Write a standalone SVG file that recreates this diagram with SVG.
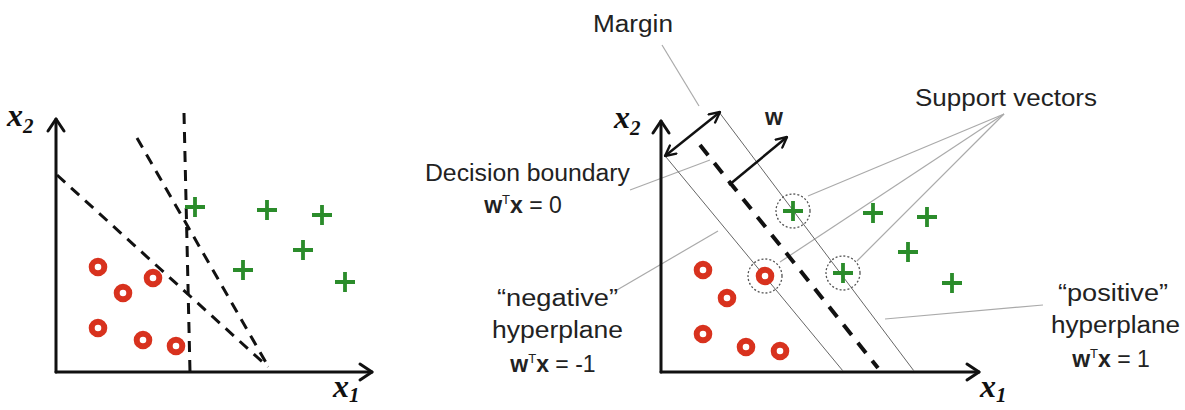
<svg xmlns="http://www.w3.org/2000/svg" width="1185" height="410" viewBox="0 0 1185 410">
<style>
.axis{stroke:#111;stroke-width:3;fill:none;stroke-linecap:round}
.head{stroke:#111;stroke-width:3;fill:none;stroke-linecap:round;stroke-linejoin:round}
.dashL{stroke:#111;stroke-width:3;stroke-dasharray:11 8;fill:none}
.dashB{stroke:#111;stroke-width:4;stroke-dasharray:13 10;fill:none}
.hyp{stroke:#666;stroke-width:1;fill:none}
.lead{stroke:#aaa;stroke-width:1.2;fill:none}
.neg{fill:#fff;stroke:#d8321e;stroke-width:6}
.pos{stroke:#2b8c2b;stroke-width:3.8;stroke-linecap:butt;fill:none}
.sv{fill:none;stroke:#555;stroke-width:1.3;stroke-dasharray:2 2}
.lbl{font-family:"Liberation Sans",Arial,sans-serif;font-size:23px;fill:#222}
.var{font-family:"Liberation Serif","Times New Roman",serif;font-style:italic;font-weight:bold;fill:#111}
.arr{stroke:#111;stroke-width:2.5;fill:none}
</style>
<defs>
<marker id="chev" viewBox="0 0 10 10" refX="9" refY="5" markerUnits="userSpaceOnUse" markerWidth="13" markerHeight="13" orient="auto-start-reverse">
<path d="M1,1 L9,5 L1,9" fill="none" stroke="#111" stroke-width="1.8" stroke-linecap="round" stroke-linejoin="round"/>
</marker>
<path id="plus" class="pos" d="M-10,0 H10 M0,-10 V10"/>
</defs>
<rect width="1185" height="410" fill="#fff"/>

<g id="left-panel">
<g id="left-axes">
<line class="axis" x1="56" y1="372" x2="56" y2="119"/>
<polyline class="head" points="48,131 56,119 64,131"/>
<line class="axis" x1="56" y1="372" x2="372" y2="372"/>
<polyline class="head" points="360,364 372,372 360,380"/>
<text class="var" x="7" y="126" font-size="32">x<tspan font-size="21" dy="7">2</tspan></text>
<text class="var" x="333" y="397" font-size="32">x<tspan font-size="21" dy="5">1</tspan></text>
</g>
<g id="left-boundaries">
<line class="dashL" x1="184" y1="113" x2="190" y2="372"/>
<line class="dashL" x1="57" y1="175" x2="268" y2="367"/>
<line class="dashL" x1="137" y1="138" x2="268" y2="366"/>
</g>
<g id="left-negatives">
<circle class="neg" cx="98" cy="267" r="6.3"/>
<circle class="neg" cx="153" cy="278" r="6.3"/>
<circle class="neg" cx="123" cy="293" r="6.3"/>
<circle class="neg" cx="98" cy="328" r="6.3"/>
<circle class="neg" cx="143" cy="340" r="6.3"/>
<circle class="neg" cx="176" cy="346" r="6.3"/>
</g>
<g id="left-positives">
<use href="#plus" x="195" y="207"/>
<use href="#plus" x="267" y="210"/>
<use href="#plus" x="322" y="215"/>
<use href="#plus" x="303" y="250"/>
<use href="#plus" x="243" y="270"/>
<use href="#plus" x="345" y="282"/>
</g>
</g>

<g id="connectors">
<line class="lead" x1="662" y1="45" x2="699" y2="106"/>
<line class="lead" x1="630" y1="190" x2="710" y2="160"/>
<line class="lead" x1="617" y1="290" x2="718" y2="231"/>
<line class="lead" x1="885" y1="319" x2="1043" y2="305"/>
<line class="lead" x1="1004" y1="114" x2="808" y2="196"/>
<line class="lead" x1="1004" y1="114" x2="780" y2="262"/>
<line class="lead" x1="1004" y1="114" x2="857" y2="261"/>
</g>

<g id="right-panel">
<g id="right-axes">
<line class="axis" x1="661" y1="372" x2="661" y2="121"/>
<polyline class="head" points="653,133 661,121 669,133"/>
<line class="axis" x1="661" y1="372" x2="979" y2="372"/>
<polyline class="head" points="967,364 979,372 967,380"/>
<text class="var" x="614" y="128" font-size="32">x<tspan font-size="21" dy="7">2</tspan></text>
<text class="var" x="980" y="397" font-size="32">x<tspan font-size="21" dy="5">1</tspan></text>
</g>
<g id="hyperplanes">
<line class="hyp" x1="666" y1="157" x2="843" y2="371"/>
<line class="hyp" x1="719" y1="112" x2="914" y2="371"/>
<line class="dashB" x1="700" y1="145" x2="878" y2="368"/>
</g>
<g id="margin-arrow">
<line class="arr" x1="665" y1="156" x2="720" y2="112" marker-start="url(#chev)" marker-end="url(#chev)"/>
</g>
<g id="w-vector">
<line class="arr" x1="729" y1="185" x2="787" y2="137" marker-end="url(#chev)"/>
<text class="lbl" x="765" y="125" font-size="24" font-weight="bold">w</text>
</g>
<g id="right-negatives">
<circle class="neg" cx="703" cy="270" r="6.3"/>
<circle class="neg" cx="727" cy="298" r="6.3"/>
<circle class="neg" cx="703" cy="334" r="6.3"/>
<circle class="neg" cx="746" cy="347" r="6.3"/>
<circle class="neg" cx="780" cy="351" r="6.3"/>
<circle class="neg" cx="765" cy="276" r="6.3"/>
</g>
<g id="right-positives">
<use href="#plus" x="793" y="211"/>
<use href="#plus" x="843" y="273"/>
<use href="#plus" x="873" y="213"/>
<use href="#plus" x="927" y="217"/>
<use href="#plus" x="908" y="252"/>
<use href="#plus" x="952" y="283"/>
</g>
<g id="support-vectors">
<circle class="sv" cx="793" cy="211" r="17"/>
<circle class="sv" cx="765" cy="276" r="17"/>
<circle class="sv" cx="843" cy="273" r="17"/>
</g>
</g>

<g id="labels">
<g id="label-margin"><text class="lbl" x="593" y="32" textLength="80" lengthAdjust="spacingAndGlyphs">Margin</text></g>
<g id="label-support"><text class="lbl" x="915" y="106" textLength="182" lengthAdjust="spacingAndGlyphs">Support vectors</text></g>
<g id="label-decision">
<text class="lbl" x="425" y="181" textLength="205" lengthAdjust="spacingAndGlyphs">Decision boundary</text>
<text class="lbl" x="523" y="213" text-anchor="middle"><tspan font-weight="bold">w</tspan><tspan font-size="13" dy="-9">T</tspan><tspan font-weight="bold" dy="9">x</tspan> = 0</text>
</g>
<g id="label-negative">
<text class="lbl" x="497" y="306" textLength="121" lengthAdjust="spacingAndGlyphs">“negative”</text>
<text class="lbl" x="492" y="338" textLength="131" lengthAdjust="spacingAndGlyphs">hyperplane</text>
<text class="lbl" x="553" y="372" text-anchor="middle"><tspan font-weight="bold">w</tspan><tspan font-size="13" dy="-9">T</tspan><tspan font-weight="bold" dy="9">x</tspan> = -1</text>
</g>
<g id="label-positive">
<text class="lbl" x="1058" y="301" textLength="110" lengthAdjust="spacingAndGlyphs">“positive”</text>
<text class="lbl" x="1051" y="333" textLength="129" lengthAdjust="spacingAndGlyphs">hyperplane</text>
<text class="lbl" x="1111" y="367" text-anchor="middle"><tspan font-weight="bold">w</tspan><tspan font-size="13" dy="-9">T</tspan><tspan font-weight="bold" dy="9">x</tspan> = 1</text>
</g>
</g>
</svg>
